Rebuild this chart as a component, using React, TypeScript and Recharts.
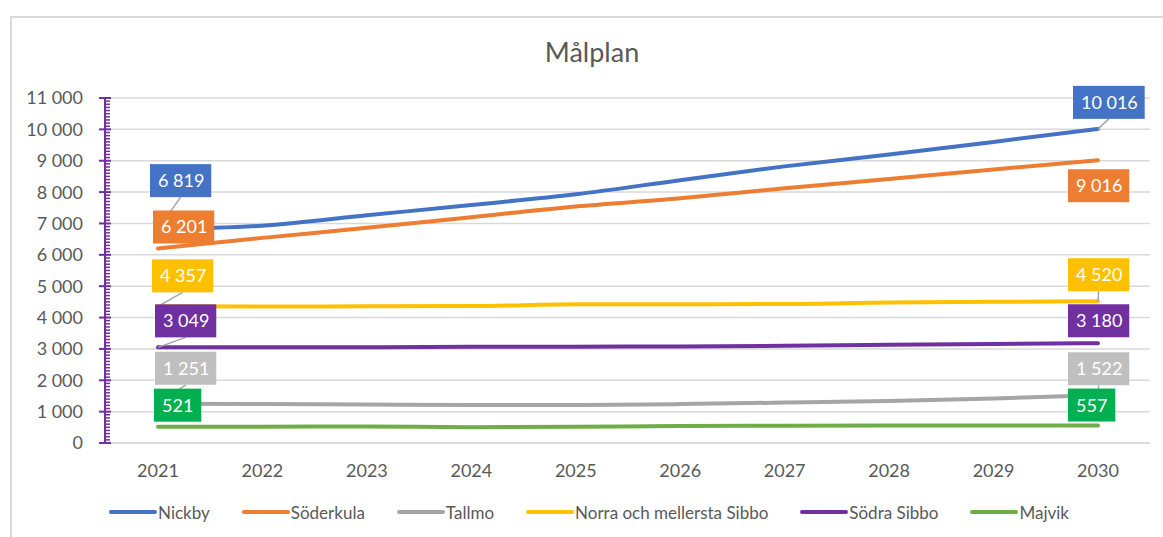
import { LineChart, Line, XAxis, YAxis, ReferenceLine, Legend } from "recharts";

const years = ["2021", "2022", "2023", "2024", "2025", "2026", "2027", "2028", "2029", "2030"];
const nickby = [6819, 6930, 7260, 7590, 7930, 8380, 8820, 9200, 9600, 10016];
const soderkula = [6201, 6540, 6860, 7200, 7540, 7800, 8120, 8420, 8720, 9016];
const tallmo = [1251, 1245, 1230, 1210, 1210, 1240, 1290, 1340, 1420, 1522];
const norra = [4357, 4350, 4360, 4365, 4420, 4425, 4430, 4480, 4500, 4520];
const sodra = [3049, 3050, 3055, 3065, 3070, 3080, 3100, 3130, 3160, 3180];
const majvik = [521, 515, 530, 505, 515, 545, 550, 555, 555, 557];

const yMajorTicks = [0, 1000, 2000, 3000, 4000, 5000, 6000, 7000, 8000, 9000, 10000, 11000];
const yMinorTicks = Array.from({ length: 111 }, (_, i) => i * 100);

const series = [
  { name: "Nickby", values: nickby, color: "#4472C4", box: "#4472C4" },
  { name: "Söderkula", values: soderkula, color: "#ED7D31", box: "#ED7D31" },
  { name: "Tallmo", values: tallmo, color: "#A5A5A5", box: "#BFBFBF" },
  { name: "Norra och mellersta Sibbo", values: norra, color: "#FFC000", box: "#FFC000" },
  { name: "Södra Sibbo", values: sodra, color: "#7030A0", box: "#7030A0" },
  { name: "Majvik", values: majvik, color: "#70AD47", box: "#00B050" },
];

// where the value boxes sit relative to their point: [first year, last year]
type Place = { dx: number; dy: number; leader: boolean };
const labelPlace: Record<string, Place[]> = {
  Nickby: [{ dx: -8, dy: -65, leader: true }, { dx: -25, dy: -43, leader: true }],
  Söderkula: [{ dx: -5, dy: -38, leader: false }, { dx: -30, dy: 9, leader: false }],
  Tallmo: [{ dx: -3, dy: -52, leader: true }, { dx: -30, dy: -43, leader: true }],
  "Norra och mellersta Sibbo": [{ dx: -6, dy: -47, leader: true }, { dx: -30, dy: -43, leader: true }],
  "Södra Sibbo": [{ dx: -3, dy: -43, leader: true }, { dx: -30, dy: -39, leader: false }],
  Majvik: [{ dx: -4, dy: -38, leader: false }, { dx: -30, dy: -37, leader: false }],
};

const data = years.map((year, i) => {
  const row: Record<string, string | number> = { year };
  series.forEach((s) => (row[s.name] = s.values[i]));
  return row;
});

const fmt = (v: number) => String(v).replace(/\B(?=(\d{3})+(?!\d))/g, " ");
const FONT = "Lato, 'Open Sans', sans-serif";
const INK = "#595959";

function makeLabel(name: string, fill: string) {
  return (props: any) => {
    const { x, y, index, value } = props;
    const last = years.length - 1;
    if (index !== 0 && index !== last) return <g />;
    const p = labelPlace[name][index === 0 ? 0 : 1];
    const text = fmt(Number(value));
    const digits = text.replace(/ /g, "").length;
    const spaces = text.length - digits;
    const w = digits * 10.44 + spaces * 3.5 + 16;
    const h = 33;
    const bx = x + p.dx;
    const by = y + p.dy;
    return (
      <g>
        {p.leader && (
          <line x1={x} y1={y} x2={bx + w / 2} y2={by + h} stroke="#A6A6A6" strokeWidth={1.5} />
        )}
        <rect x={bx} y={by} width={w} height={h} fill={fill} />
        <text x={bx + 8} y={by + h / 2} dy="0.36em" fill="#fff" fontSize={18} fontFamily={FONT}>
          {text}
        </text>
      </g>
    );
  };
}

function YTick(props: any) {
  const { x, y, payload } = props;
  const ax = x + 22;
  const v = payload.value;
  const major = v % 1000 === 0;
  return (
    <g>
      <line
        x1={major ? ax - 6 : ax}
        x2={major ? ax + 6 : ax + 5}
        y1={y}
        y2={y}
        stroke="#7030A0"
        strokeWidth={major ? 2 : 1.5}
      />
      {major && (
        <text x={x} y={y} dy="0.36em" textAnchor="end" fill={INK} fontSize={18} fontFamily={FONT}>
          {fmt(v)}
        </text>
      )}
    </g>
  );
}

function LegendRow() {
  return (
    <div style={{ display: "flex", justifyContent: "center", alignItems: "center", gap: 32, height: 24 }}>
      {series.map((s) => (
        <div key={s.name} style={{ display: "flex", alignItems: "center" }}>
          <svg width={48} height={8}>
            <line x1={2} y1={4} x2={46} y2={4} stroke={s.color} strokeWidth={4} strokeLinecap="round" />
          </svg>
          <span style={{ fontSize: 17, color: INK, fontFamily: FONT, marginLeft: 1 }}>{s.name}</span>
        </div>
      ))}
    </div>
  );
}

export default function App() {
  return (
    <div
      style={{
        position: "absolute",
        left: 0,
        top: 0,
        width: 1163,
        height: 537,
        overflow: "hidden",
        background: "#fff",
        fontFamily: FONT,
      }}
    >
      <div
        style={{
          position: "absolute",
          left: 10,
          top: 16,
          width: 1200,
          height: 600,
          borderTop: "2px solid #D9D9D9",
          borderLeft: "2px solid #D9D9D9",
        }}
      />
      <svg style={{ position: "absolute", left: 0, top: 0 }} width={1163} height={80}>
        <text x={592} y={62} textAnchor="middle" fill={INK} fontSize={27} fontFamily={FONT}>
          Målplan
        </text>
      </svg>
      <div style={{ position: "absolute", left: 0, top: 0 }}>
        <LineChart width={1163} height={537} data={data} margin={{ top: 98, right: 13, left: 10, bottom: 40 }}>
          {yMajorTicks.map((v) => (
            <ReferenceLine key={v} y={v} stroke="#D9D9D9" strokeWidth={1.5} />
          ))}
          <XAxis
            dataKey="year"
            axisLine={{ stroke: "#D9D9D9", strokeWidth: 1.5 }}
            tickLine={false}
            tickSize={0}
            tickMargin={21}
            padding={{ left: 53, right: 52 }}
            tick={{ fill: INK, fontSize: 18, fontFamily: FONT }}
            height={30}
          />
          <YAxis
            domain={[0, 11000]}
            ticks={yMinorTicks}
            interval={0}
            width={95}
            tickSize={6}
            tickMargin={16}
            tickLine={false}
            axisLine={{ stroke: "#7030A0", strokeWidth: 2 }}
            tick={YTick}
          />
          <Legend
            verticalAlign="bottom"
            wrapperStyle={{ position: "absolute", left: 8, top: 500, width: 1162, height: 24 }}
            content={() => <LegendRow />}
          />
          {series.map((s) => (
            <Line
              key={s.name}
              dataKey={s.name}
              type="monotone"
              stroke={s.color}
              strokeWidth={4}
              strokeLinecap="round"
              dot={false}
              isAnimationActive={false}
              label={makeLabel(s.name, s.box)}
            />
          ))}
        </LineChart>
      </div>
    </div>
  );
}
